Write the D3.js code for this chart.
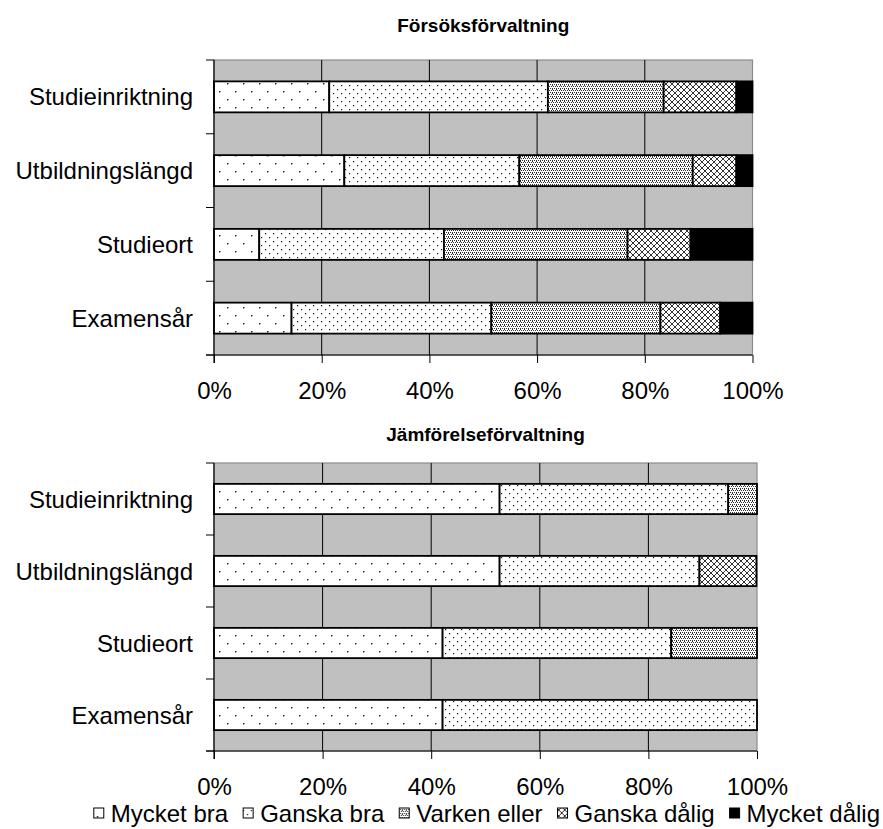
<!DOCTYPE html>
<html>
<head>
<meta charset="utf-8">
<script src="https://cdn.jsdelivr.net/npm/d3@7/dist/d3.min.js"></script>
<style>
  html, body { margin: 0; padding: 0; background: #ffffff; }
  svg { display: block; font-family: "Liberation Sans", Arial, sans-serif; }
</style>
</head>
<body>
<svg id="chart" width="883" height="829"></svg>
<script>
// Survey answers, share of respondents per answer (percent)
const categories = ["Studieinriktning", "Utbildningslängd", "Studieort", "Examensår"];
const answers = ["Mycket bra", "Ganska bra", "Varken eller", "Ganska dålig", "Mycket dålig"];

// Försöksförvaltning: one array per answer, in category order
const trialMycketBra   = [21.4, 24.2,  8.4, 14.4];
const trialGanskaBra   = [40.6, 32.5, 34.3, 37.1];
const trialVarken      = [21.5, 32.2, 34.1, 31.4];
const trialGanskaDalig = [13.5,  8.1, 11.7, 11.1];
const trialMycketDalig = [ 3.0,  3.0, 11.5,  6.0];

// Jämförelseförvaltning
const compMycketBra   = [52.6, 52.6, 42.1, 42.1];
const compGanskaBra   = [42.1, 36.8, 42.1, 57.9];
const compVarken      = [ 5.3,  0.0, 15.8,  0.0];
const compGanskaDalig = [ 0.0, 10.5,  0.0,  0.0];
const compMycketDalig = [ 0.0,  0.0,  0.0,  0.0];

const xTicks = [0, 20, 40, 60, 80, 100];
const xTickLabels = ["0%", "20%", "40%", "60%", "80%", "100%"];

const FONT = 24;

const panels = [
  { title: "Försöksförvaltning", titleY: 25, left: 214, right: 752.5, top: 60, bottom: 355,
    series: [trialMycketBra, trialGanskaBra, trialVarken, trialGanskaDalig, trialMycketDalig] },
  { title: "Jämförelseförvaltning", titleY: 434, left: 214, right: 757, top: 463, bottom: 751,
    series: [compMycketBra, compGanskaBra, compVarken, compGanskaDalig, compMycketDalig] }
];

const svg = d3.select("#chart");
const defs = svg.append("defs");

// Fill patterns for the five answers
function pattern(id, w, h, draw) {
  const p = defs.append("pattern").attr("id", id)
    .attr("patternUnits", "userSpaceOnUse").attr("width", w).attr("height", h);
  p.append("rect").attr("width", w).attr("height", h).attr("fill", "#ffffff");
  draw(p);
}
function dots(p, pts, color, s = 1) {
  pts.forEach(([x, y]) => p.append("rect").attr("x", x).attr("y", y)
    .attr("width", s).attr("height", s).attr("fill", color));
}
pattern("p0", 16, 16, p => dots(p, [[3, 3], [11, 11]], "#111", 1.4));
pattern("p1", 8, 8, p => dots(p, [[1, 1], [5, 5]], "#111", 1.2));
pattern("p2", 4, 4, p => dots(p, [[0, 0], [2, 0], [1, 2], [3, 2], [0, 1]], "#333"));
pattern("p3", 6, 6, p => p.append("path").attr("d", "M0,0L6,6M6,0L0,6M-1,5L1,7M5,-1L7,1")
  .attr("stroke", "#333").attr("stroke-width", 1).attr("fill", "none"));
defs.append("pattern").attr("id", "p4").attr("patternUnits", "userSpaceOnUse")
  .attr("width", 4).attr("height", 4)
  .append("rect").attr("width", 4).attr("height", 4).attr("fill", "#000");
const fills = ["url(#p0)", "url(#p1)", "url(#p2)", "url(#p3)", "url(#p4)"];

panels.forEach(panel => {
  const x = d3.scaleLinear().domain([0, 100]).range([panel.left, panel.right]);
  const y = d3.scaleBand().domain(categories).range([panel.top, panel.bottom])
    .paddingInner(0.58).paddingOuter(0.29);
  const yb = d3.scaleBand().domain(categories).range([panel.top, panel.bottom]);

  const g = svg.append("g");

  // plot area
  g.append("rect").attr("x", panel.left).attr("y", panel.top)
    .attr("width", panel.right - panel.left).attr("height", panel.bottom - panel.top)
    .attr("fill", "#c0c0c0").attr("stroke", "#8c8c8c").attr("stroke-width", 1.2);

  // vertical gridlines
  g.selectAll(".grid").data(xTicks.slice(1, -1)).join("line")
    .attr("x1", d => x(d)).attr("x2", d => x(d))
    .attr("y1", panel.top).attr("y2", panel.bottom)
    .attr("stroke", "#000").attr("stroke-width", 1);

  // stacked bars
  const rows = categories.map((c, i) => {
    let acc = 0;
    return panel.series.map((s, k) => {
      const seg = { cat: c, k, x0: acc, x1: acc + s[i] };
      acc += s[i];
      return seg;
    }).filter(d => d.x1 - d.x0 > 0);
  }).flat();

  g.selectAll(".seg").data(rows).join("rect")
    .attr("x", d => x(d.x0)).attr("width", d => x(d.x1) - x(d.x0))
    .attr("y", d => y(d.cat)).attr("height", y.bandwidth())
    .attr("fill", d => fills[d.k]).attr("stroke", "#000").attr("stroke-width", 1.8);

  // x axis
  const xAxis = d3.axisBottom(x).tickValues(xTicks)
    .tickFormat((d, i) => xTickLabels[i]).tickSize(8).tickSizeOuter(0).tickPadding(19);
  const ax = g.append("g").attr("transform", `translate(0,${panel.bottom})`).call(xAxis);
  ax.select(".domain").attr("stroke", "#000").attr("stroke-width", 1.2)
    .attr("d", `M${panel.left - 8},0H${panel.right}`);
  ax.selectAll(".tick line").attr("stroke", "#000");
  ax.selectAll(".tick text").attr("font-size", FONT).attr("fill", "#000")
    .attr("font-family", "Liberation Sans, Arial, sans-serif");

  // y axis: ticks at category boundaries
  const bounds = categories.map(c => yb(c)).concat([panel.bottom]);
  g.append("line").attr("x1", panel.left).attr("x2", panel.left)
    .attr("y1", panel.top).attr("y2", panel.bottom + 8)
    .attr("stroke", "#000").attr("stroke-width", 1.2);
  g.selectAll(".ytick").data(bounds).join("line")
    .attr("x1", panel.left - 8).attr("x2", panel.left)
    .attr("y1", d => d).attr("y2", d => d)
    .attr("stroke", "#000").attr("stroke-width", 1);

  // category labels
  g.selectAll(".cat").data(categories).join("text")
    .attr("x", panel.left - 21).attr("y", d => y(d) + y.bandwidth() / 2)
    .attr("text-anchor", "end").attr("dominant-baseline", "central")
    .attr("font-size", FONT).attr("fill", "#000").text(d => d);

  // title
  g.append("text").attr("x", (panel.left + panel.right) / 2).attr("y", panel.titleY)
    .attr("text-anchor", "middle").attr("dominant-baseline", "central")
    .attr("font-size", 19).attr("font-weight", "bold").text(panel.title);
});

// legend, laid out left to right, then right-aligned
const legend = svg.append("g");
let lx = 0;
answers.forEach((a, k) => {
  legend.append("rect").attr("x", lx).attr("y", -5).attr("width", 10).attr("height", 10)
    .attr("fill", fills[k]).attr("stroke", "#000").attr("stroke-width", 1);
  const t = legend.append("text").attr("x", lx + 17).attr("y", 0)
    .attr("dominant-baseline", "central").attr("font-size", FONT).text(a);
  lx += 17 + t.node().getComputedTextLength() + 15;
});
legend.attr("transform", `translate(${880 - lx + 15},813)`);
</script>
</body>
</html>
